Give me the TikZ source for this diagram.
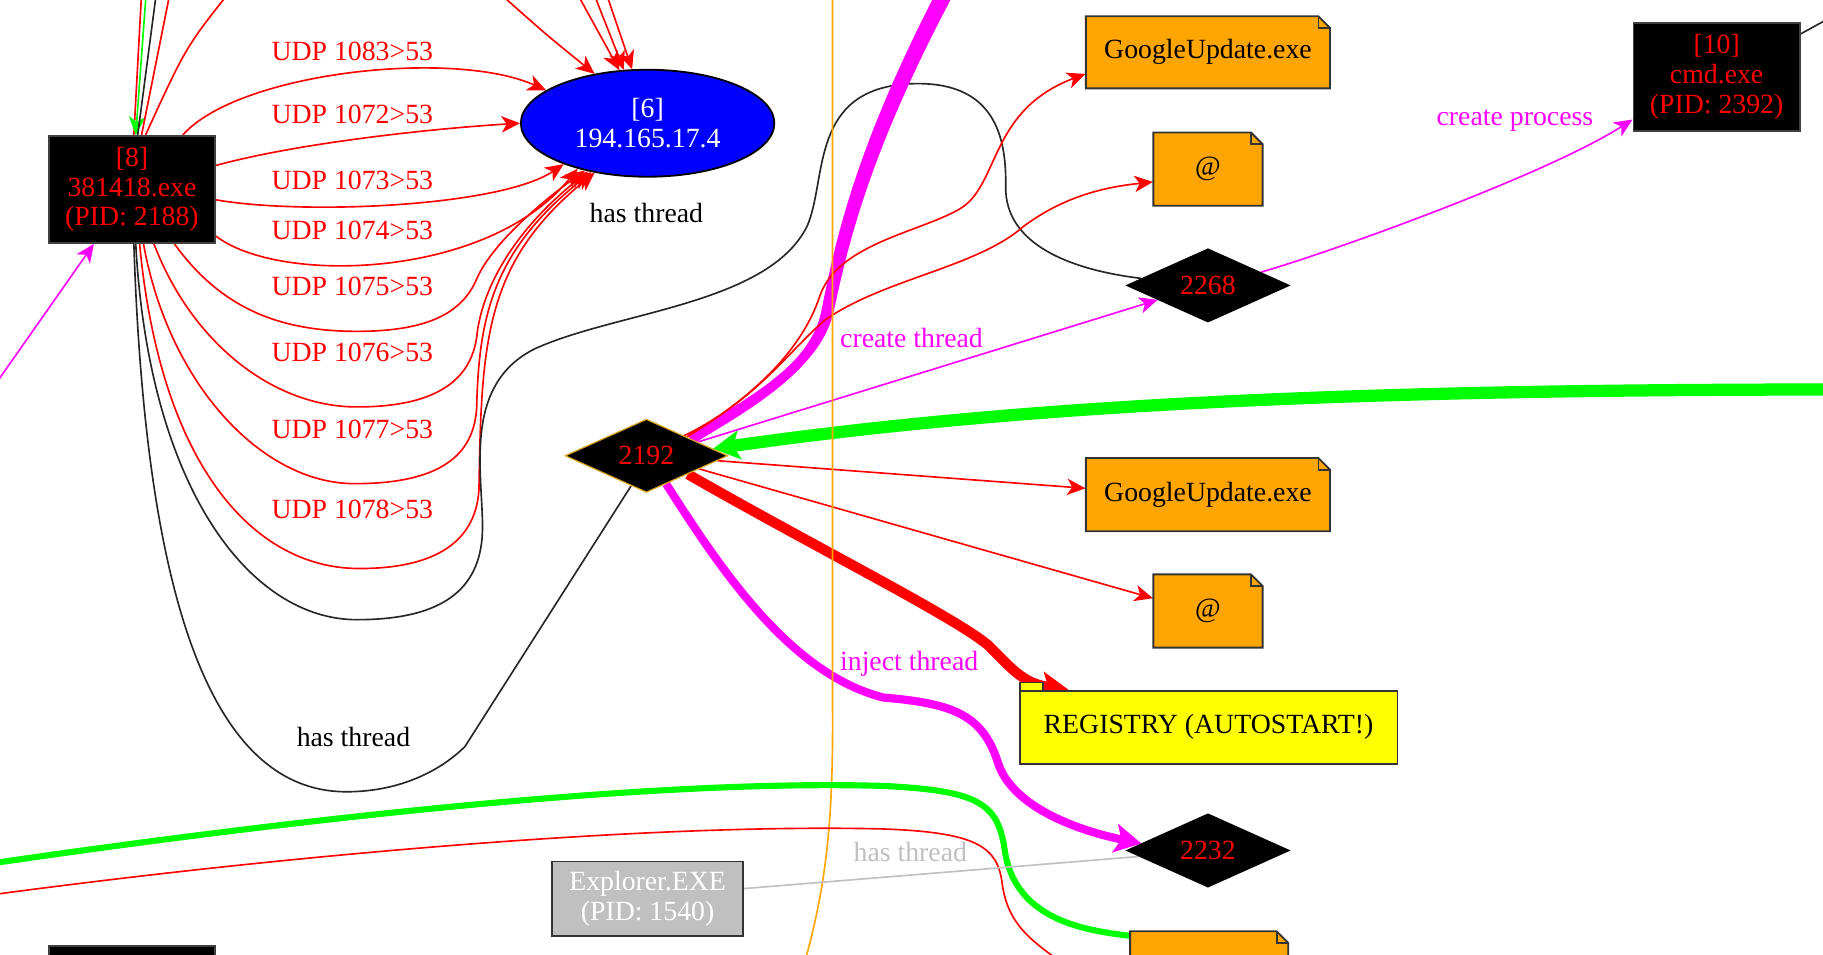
\documentclass[tikz,border=0pt]{standalone}
\usepackage{fontspec}
\setmainfont{Liberation Serif}
\usetikzlibrary{shapes.geometric,arrows.meta,backgrounds}

\definecolor{gvred}{RGB}{255,0,0}
\definecolor{gvmag}{RGB}{255,0,255}
\definecolor{gvgreen}{RGB}{0,255,0}
\definecolor{gvblue}{RGB}{0,0,255}
\definecolor{gvorange}{RGB}{255,165,0}
\definecolor{gvyellow}{RGB}{255,255,0}
\definecolor{gvgray}{RGB}{192,192,192}
\definecolor{gvgold}{RGB}{218,165,32}

% one drawing unit
\def\pxu{0.02cm}

\tikzset{
  proc/.style={rectangle, fill=black, draw=black!75, line width=0.9pt, text=gvred,
    align=center, inner sep=0pt, minimum width=143*\pxu, minimum height=92*\pxu},
  host/.style={ellipse, fill=gvblue, draw=black, line width=0.9pt, text=white,
    align=center, inner sep=0pt, minimum width=218*\pxu, minimum height=92*\pxu},
  thr/.style={diamond, aspect=2.2, fill=black, draw=black, line width=0.6pt,
    text=gvred, inner sep=0pt, minimum width=140*\pxu, minimum height=63*\pxu},
  notepaper/.style={fill=gvorange, draw=black!80, line width=0.9pt},
  notetext/.style={rectangle, inner sep=0pt, text=black},
  regbox/.style={rectangle, fill=gvyellow, draw=black!80, line width=0.9pt,
    inner sep=0pt, minimum width=325*\pxu, minimum height=63*\pxu},
  procgray/.style={rectangle, fill=gvgray, draw=black!80, line width=0.9pt,
    text=white, align=center, inner sep=0pt, minimum width=164*\pxu, minimum height=64*\pxu},
  lbl/.style={inner sep=0pt},
  udp/.style={draw=gvred, line width=0.8pt},
  magthin/.style={draw=gvmag, line width=0.8pt},
  blk/.style={draw=black!85, line width=0.8pt},
  arrowed/.style={-{Stealth[length=9pt,width=8pt,inset=2.5pt]}},
  bigarrow/.style={-{Stealth[length=13pt,width=14pt,inset=3pt]}},
}

% note-shaped file node: name, x, y, width, height, text
\newcommand\notenode[6]{%
  \filldraw[notepaper] ({#2-#4/2},{#3-#5/2}) -- ({#2+#4/2-10},{#3-#5/2})
    -- ({#2+#4/2},{#3-#5/2+10}) -- ({#2+#4/2},{#3+#5/2}) -- ({#2-#4/2},{#3+#5/2}) -- cycle;
  \draw[notepaper, fill=none] ({#2+#4/2-10},{#3-#5/2}) -- ({#2+#4/2-10},{#3-#5/2+10})
    -- ({#2+#4/2},{#3-#5/2+10});
  \node[notetext, minimum width=#4*\pxu, minimum height=#5*\pxu] (#1) at (#2,#3) {#6};
}

\begin{document}
\begin{tikzpicture}[x=0.02cm, y=-0.02cm,
  every node/.style={font=\fontsize{13.6}{14.5}\selectfont}]
\useasboundingbox (0,0) rectangle (1568,821);

% ---------- nodes ----------
\node[proc] (n8) at (113.5,163) {[8]\\381418.exe\\(PID: 2188)};
\node[proc] (n8b) at (113.5,860) {};
\node[host] (n6) at (557,106) {[6]\\194.165.17.4};
\node[proc, minimum height=93*\pxu] (n10) at (1476.5,66) {[10]\\cmd.exe\\(PID: 2392)};

\node[thr, draw=gvgold] (d2192) at (556,392) {2192};
\node[thr] (d2268) at (1039,245.5) {2268};
\node[thr] (d2232) at (1039,731.5) {2232};

\notenode{gu1}{1039}{45}{210}{62}{GoogleUpdate.exe}
\notenode{at1}{1039}{145.5}{94}{63}{@}
\notenode{gu2}{1039}{425.5}{210}{63}{GoogleUpdate.exe}
\notenode{at2}{1039}{525.5}{94}{63}{@}
\notenode{note3}{1040}{832.5}{136}{63}{}

\filldraw[fill=gvyellow, draw=black!80, line width=0.9pt] (877,587) rectangle (897,594);
\node[regbox] (reg) at (1039.5,625.5) {REGISTRY (AUTOSTART!)};

\node[procgray] (expl) at (557,773) {Explorer.EXE\\(PID: 1540)};

% ---------- edge labels ----------
\node[lbl, text=gvred] (l1083) at (303,44) {UDP 1083>53};
\node[lbl, text=gvred] (l1072) at (303,98) {UDP 1072>53};
\node[lbl, text=gvred] (l1073) at (303,155) {UDP 1073>53};
\node[lbl, text=gvred] (l1074) at (303,198) {UDP 1074>53};
\node[lbl, text=gvred] (l1075) at (303,246) {UDP 1075>53};
\node[lbl, text=gvred] (l1076) at (303,303) {UDP 1076>53};
\node[lbl, text=gvred] (l1077) at (303,369) {UDP 1077>53};
\node[lbl, text=gvred] (l1078) at (303,438) {UDP 1078>53};
\node[lbl] (lht1) at (556,183) {has thread};
\node[lbl] (lht2) at (304,634) {has thread};
\node[lbl, text=gvgray] (lht3) at (783,733) {has thread};
\node[lbl, text=gvmag] (lct) at (784,291) {create thread};
\node[lbl, text=gvmag] (lcp) at (1303,104) {create process};
\node[lbl, text=gvmag] (lit) at (782,571) {inject thread};

% ---------- free ends beyond the frame ----------
\coordinate (t1) at (122,-10);
\coordinate (t2) at (126,-10);
\coordinate (t3) at (135,-10);
\coordinate (t4) at (147,-10);
\coordinate (t5) at (200,-10);
\coordinate (h1) at (425,-10);
\coordinate (h2) at (494,-10);
\coordinate (h3) at (509,-10);
\coordinate (h4) at (520,-10);
\coordinate (m0) at (-5,332);
\coordinate (m1) at (814,-15);
\coordinate (m2) at (821,-15);
\coordinate (x10) at (1580,12);
\coordinate (g0) at (1590,335);
\coordinate (o0) at (716,-10);
\coordinate (o1) at (690,835);
\coordinate (gL) at (-10,743);
\coordinate (rL) at (-10,770);
\coordinate (r1) at (935,845);

% ---------- connectors ----------
\begin{scope}[on background layer]
\fill[white] (0,0) rectangle (1568,821);

% UDP traffic from [8] to [6]
\draw[udp,arrowed] (n8.47) .. controls (205,62) and (390,42) .. (n6.162);
\draw[udp,arrowed] (n8.16) .. controls (260,122) and (380,110) .. (n6.180);
\draw[udp,arrowed] (n8.-7) .. controls (260,185) and (430,178) .. (n6.206);
\draw[udp,arrowed] (n8.-29) .. controls (240,245) and (420,240) .. (n6.213);
\draw[udp,arrowed] (n8.-52) .. controls (190,265) and (240,285) .. (307,285)
   .. controls (370,285) and (398,268) .. (410,240) .. controls (422,212) and (460,178) .. (n6.217);
\draw[udp,arrowed] (n8.-68) .. controls (165,295) and (235,350) .. (307,350)
   .. controls (378,350) and (405,325) .. (410,290) .. controls (414,250) and (440,200) .. (n6.219);
\draw[udp,arrowed] (n8.-78) .. controls (145,330) and (225,416) .. (305,416)
   .. controls (378,416) and (408,392) .. (410,350) .. controls (412,270) and (425,215) .. (n6.221);
\draw[udp,arrowed] (n8.-82) .. controls (138,400) and (218,489) .. (309,489)
   .. controls (380,489) and (410,462) .. (412,420) .. controls (414,290) and (418,225) .. (n6.223);

% threads of [8]
\draw[blk] (n8.-86) .. controls (128,420) and (215,533) .. (307,533)
   .. controls (392,533) and (416,498) .. (415,450) .. controls (414,400) and (400,330) .. (460,300)
   .. controls (530,268) and (660,262) .. (694,195) .. controls (712,155) and (695,75) .. (785,72)
   .. controls (850,70) and (866,110) .. (865,160) .. controls (864,210) and (920,232) .. (d2268.174);
\draw[blk] (n8.-88) .. controls (124,480) and (170,681) .. (298,681)
   .. controls (345,681) and (380,662) .. (400,642) -- (d2192.243);

% edges entering from above
\draw[udp] (t1) -- (n8.88);
\draw[draw=gvgreen, line width=0.8pt, arrowed] (t2) -- (n8.86);
\draw[blk] (t3) -- (n8.84);
\draw[udp] (t4) -- (n8.80);
\draw[udp] (t5) .. controls (160,40) .. (n8.76);
\draw[udp,arrowed] (h1) .. controls (470,30) .. (n6.137);
\draw[udp,arrowed] (h2) -- (n6.118);
\draw[udp,arrowed] (h3) -- (n6.114);
\draw[udp,arrowed] (h4) -- (n6.106);
\draw[magthin,arrowed] (m0) -- (n8.235);

% thread 2192
\draw[draw=gvmag, line width=4.5pt] (d2192.20) .. controls (650,345) and (700,315) .. (710,270)
   .. controls (722,210) and (738,130) .. (m1);
\draw[draw=gvmag, line width=4.5pt] (d2192.22) .. controls (652,343) and (702,313) .. (713,268)
   .. controls (726,208) and (744,128) .. (m2);
\draw[udp,arrowed] (d2192.25) .. controls (650,340) and (690,300) .. (705,255)
   .. controls (720,210) and (790,200) .. (825,180) .. controls (860,160) and (850,95) .. (gu1.190);
\draw[udp,arrowed] (d2192.28) .. controls (650,345) and (680,300) .. (710,275)
   .. controls (760,240) and (840,230) .. (880,195) .. controls (920,165) and (960,160) .. (at1.193);
\draw[magthin,arrowed] (d2192.15) -- (d2268.196);
\draw[magthin,arrowed] (d2268.14) .. controls (1150,215) and (1330,150) .. (n10.207);
\draw[blk] (n10.27) -- (x10);
\draw[draw=gvgreen, line width=6pt, bigarrow] (g0) .. controls (1200,335) and (900,345) .. (d2192.6);
\draw[udp,arrowed] (d2192.-4) -- (gu2.177);
\draw[udp,arrowed] (d2192.-14) -- (at2.167);
\draw[draw=gvred, line width=5pt, bigarrow] (d2192.-24) .. controls (700,470) and (820,530) .. (850,555)
   .. controls (870,575) and (880,588) .. (reg.165);
\draw[draw=gvmag, line width=4pt, bigarrow] (d2192.-55) .. controls (620,490) and (680,580) .. (760,600)
   .. controls (820,605) and (845,615) .. (858,655) .. controls (870,695) and (930,715) .. (d2232.174);

% lower crossing edges
\draw[draw=gvorange, line width=0.8pt] (o0) -- (716,600) .. controls (717,700) and (712,760) .. (o1);
\draw[draw=gvgreen, line width=3pt] (gL) .. controls (250,705) and (560,670) .. (760,676)
   .. controls (840,680) and (858,690) .. (864,730) .. controls (872,790) and (930,800) .. (note3.158);
\draw[udp] (rL) .. controls (250,735) and (560,708) .. (760,713)
   .. controls (840,716) and (858,728) .. (862,760) .. controls (868,805) and (900,815) .. (r1);
\draw[draw=gvgray, line width=0.8pt] (expl.6) -- (d2232.185);
\end{scope}
\end{tikzpicture}
\end{document}
